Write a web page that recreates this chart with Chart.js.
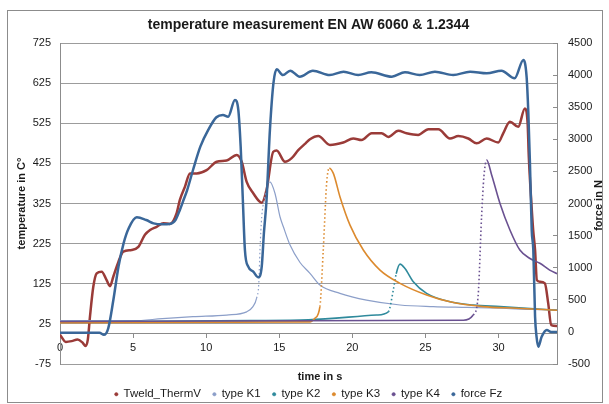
<!DOCTYPE html>
<html>
<head>
<meta charset="utf-8">
<script src="https://cdn.jsdelivr.net/npm/chart.js@4.4.1/dist/chart.umd.min.js"></script>
<style>
  html, body { margin: 0; padding: 0; background: #fff; }
  #wrap { width: 609px; height: 404px; }
</style>
</head>
<body>
<div id="wrap"><canvas id="chart" width="609" height="404"></canvas></div>
<script>
// tick labels
const timeTicks = [0, 5, 10, 15, 20, 25, 30];
const tempTicks = [-75, 25, 125, 225, 325, 425, 525, 625, 725];
const forceTicks = [-500, 0, 500, 1000, 1500, 2000, 2500, 3000, 3500, 4000, 4500];

// Tweld_ThermV (temperature, left axis)
const tweldTime = [0, 0.4, 0.8, 1.2, 1.55, 1.75, 1.9, 2.05, 2.28, 2.51, 2.85, 3.19, 3.42, 3.65, 4.0, 4.33, 4.9, 5.36, 5.81, 6.16, 6.61, 7.07, 7.52, 7.98, 8.2, 8.55, 8.89, 9.35, 10.03, 10.72, 11.4, 12.09, 12.43, 12.77, 13.23, 13.8, 14.13, 14.59, 14.82, 15.39, 15.85, 16.3, 16.8, 17.1, 17.67, 18.47, 19.38, 20.06, 20.63, 21.32, 22.0, 22.46, 23.14, 23.71, 24.5, 25.2, 25.88, 26.68, 27.25, 27.93, 28.5, 29.19, 29.98, 30.32, 30.78, 31.35, 31.8, 31.99, 32.07, 32.22, 32.37, 32.5, 32.62, 32.83, 33.17, 33.4, 33.6, 34];
const tweldTemp = [-2, -20, -18, -14, -22, -30, -15, 43, 118, 151, 155, 134, 119, 143, 180, 205, 209, 217, 247, 259, 267, 276, 274, 301, 334, 367, 400, 400, 408, 429, 432, 446, 429, 379, 350, 327, 359, 454, 457, 429, 438, 458, 475, 485, 493, 471, 477, 487, 483, 500, 500, 491, 506, 500, 496, 510, 510, 487, 493, 487, 475, 487, 477, 500, 529, 516, 562, 525, 442, 342, 259, 209, 134, 130, 126, 76, 22, 20];

// type K1
const k1Time = [0, 5, 7, 9.1, 11.4, 12.77, 13.2, 13.45, 13.6, 13.68, 13.8, 13.95, 14.36, 14.71, 15.05, 15.28, 15.73, 16.42, 17.1, 17.78, 19.15, 20.97, 23.26, 25.53, 27.82, 30.1, 32.37, 34];
const k1Temp = [33, 33, 38, 43, 47, 55, 68, 89, 126, 209, 292, 330, 379, 350, 292, 267, 222, 178, 151, 122, 101, 84, 72, 68, 66, 64, 61, 60];

// type K2
const k2Time = [0, 13, 17, 21.66, 22.46, 22.8, 23.0, 23.26, 23.6, 24.17, 25.08, 26.68, 28.27, 30.1, 34];
const k2Temp = [30, 33, 35, 47, 55, 109, 150, 174, 163, 130, 101, 80, 72, 68, 59];

// type K3
const k3Time = [0, 17.1, 17.44, 17.78, 18.01, 18.24, 18.42, 18.7, 19.15, 19.84, 20.75, 21.89, 23.26, 25.08, 26.68, 28.95, 31.23, 34];
const k3Temp = [28, 30, 39, 68, 209, 375, 413, 400, 342, 271, 209, 159, 126, 97, 80, 68, 64, 59];

// type K4
const k4Time = [0, 27.6, 28.27, 28.6, 28.84, 29.0, 29.19, 29.53, 30.1, 30.78, 31.46, 32.15, 32.83, 33.5, 34];
const k4Temp = [31, 34, 47, 93, 292, 392, 433, 396, 325, 259, 209, 188, 176, 159, 150];

// force Fz (right axis)
const forceTime = [0, 1.5, 2.7, 3.0, 3.3, 3.65, 4.0, 4.35, 4.7, 5.25, 5.9, 6.4, 7.0, 7.5, 7.9, 8.2, 8.45, 8.7, 9.1, 9.6, 10.15, 10.7, 11.15, 11.5, 11.97, 12.2, 12.36, 12.5, 12.65, 12.88, 13.22, 13.57, 13.8, 13.95, 14.13, 14.36, 14.6, 14.82, 15.25, 15.75, 16.4, 17.3, 18.45, 19.4, 20.4, 21.3, 22.7, 23.6, 24.6, 25.65, 26.9, 28.05, 29.2, 30.2, 31.1, 31.7, 31.92, 32.04, 32.15, 32.27, 32.38, 32.5, 32.6, 32.72, 32.95, 33.3, 33.6, 34];
const forceVal = [-15, -15, -15, -45, 56, 497, 1016, 1380, 1614, 1785, 1743, 1691, 1675, 1681, 1743, 1900, 2054, 2210, 2522, 2885, 3150, 3343, 3379, 3352, 3612, 3456, 2885, 2106, 1276, 1016, 938, 850, 1016, 1540, 2055, 3143, 3872, 4090, 4000, 4069, 3975, 4069, 4001, 4053, 4001, 4044, 3975, 4044, 4001, 4053, 4001, 4053, 4027, 4069, 3950, 4235, 3975, 3405, 2626, 1587, 1276, 237, -75, -230, -75, 30, 0, 0];

const toPoints = (xs, ys) => xs.map((x, i) => ({ x: x, y: ys[i] }));

// steile Anstiege der Thermoelemente gepunktet (wie im Excel-Original)
const dottedRise = (ctx) => {
    const dx = ctx.p1.x - ctx.p0.x;
    const dy = ctx.p0.y - ctx.p1.y;
    return dy > 10 && dy > 2.5 * dx ? [1.5, 2.5] : undefined;
};

const series = (label, xs, ys, color, width, axis, order, dotted) => ({
    label: label,
    data: toPoints(xs, ys),
    borderColor: color,
    backgroundColor: color,
    borderWidth: width,
    pointRadius: 0,
    showLine: true,
    cubicInterpolationMode: "monotone",
    xAxisID: "x",
    yAxisID: axis,
    order: order,
    segment: dotted ? { borderDash: dottedRise } : {},
});

// Rahmen um das ganze Diagramm + weisser Hintergrund
const framePlugin = {
    id: "frame",
    beforeDraw: (chart) => {
        const { ctx, width, height } = chart;
        ctx.save();
        ctx.fillStyle = "#ffffff";
        ctx.fillRect(0, 0, width, height);
        ctx.strokeStyle = "#8c8c8c";
        ctx.lineWidth = 1;
        ctx.strokeRect(7.5, 10.5, 595, 392);
        ctx.restore();
    },
};

// Achsentitel rechts (von unten nach oben lesbar) und unten (leicht nach rechts versetzt)
const axisTitlePlugin = {
    id: "axisTitles",
    afterDraw: (chart) => {
        const { ctx, chartArea } = chart;
        ctx.save();
        ctx.font = 'bold 11px "Liberation Sans", Arial, sans-serif';
        ctx.fillStyle = "#1a1a1a";
        ctx.textAlign = "center";
        ctx.textBaseline = "middle";
        ctx.fillText("time in s", 320, 377);
        ctx.translate(599, (chartArea.top + chartArea.bottom) / 2 + 2);
        ctx.rotate(-Math.PI / 2);
        ctx.fillText("force in N", 0, 0);
        ctx.restore();
    },
};

Chart.defaults.font.family = '"Liberation Sans", Arial, sans-serif';
Chart.defaults.font.size = 11;
Chart.defaults.color = "#1a1a1a";

new Chart(document.getElementById("chart"), {
    type: "scatter",
    data: {
        datasets: [
            series("Tweld_ThermV", tweldTime, tweldTemp, "#9a3b38", 2.5, "y", 6, false),
            series("type K1", k1Time, k1Temp, "#8c9fc9", 1.2, "y", 5, true),
            series("type K2", k2Time, k2Temp, "#2f8a9c", 1.6, "y", 4, true),
            series("type K3", k3Time, k3Temp, "#dc8a2e", 1.6, "y", 3, true),
            series("type K4", k4Time, k4Temp, "#6a5191", 1.6, "y", 2, true),
            series("force Fz", forceTime, forceVal, "#3a6799", 2.5, "y1", 1, false),
        ],
    },
    options: {
        responsive: false,
        animation: false,
        events: [],
        layout: { padding: { left: 8, right: 0, top: 0, bottom: -6 } },
        plugins: {
            tooltip: { enabled: false },
            title: {
                display: true,
                text: "temperature measurement EN AW 6060 & 1.2344",
                font: { size: 14, weight: "bold" },
                padding: { top: 16.6, bottom: 9.6 },
                color: "#1a1a1a",
            },
            legend: {
                position: "bottom",
                labels: {
                    usePointStyle: true,
                    pointStyle: "circle",
                    boxWidth: 3,
                    boxHeight: 2.4,
                    padding: 12,
                    font: { size: 11.5 },
                    sort: (a, b) => a.datasetIndex - b.datasetIndex,
                    generateLabels: (chart) =>
                        Chart.defaults.plugins.legend.labels
                            .generateLabels(chart)
                            .map((item) => ({ ...item, lineWidth: 0.5 })),
                },
            },
        },
        scales: {
            x: {
                type: "linear",
                position: { y: 0 },
                min: 0,
                max: 34,
                afterBuildTicks: (scale) => {
                    scale.ticks = timeTicks.map((v) => ({ value: v }));
                },
                grid: { drawOnChartArea: false, drawTicks: true, tickLength: 4, color: "#8c8c8c" },
                border: { color: "#8c8c8c" },
                ticks: { padding: 3, maxRotation: 0 },
            },
            // leere Achse unten, reserviert nur den Platz fuer den Achsentitel
            x2: {
                type: "linear",
                position: "bottom",
                min: 0,
                max: 1,
                ticks: { display: false },
                grid: { display: false },
                border: { display: false },
                afterFit: (scale) => {
                    scale.height = 12.5;
                },
            },
            y: {
                position: "left",
                min: -75,
                max: 725,
                afterBuildTicks: (scale) => {
                    scale.ticks = tempTicks.map((v) => ({ value: v }));
                },
                grid: { color: "#9c9c9c", drawTicks: false },
                border: { color: "#8c8c8c" },
                ticks: { padding: 9 },
                title: {
                    display: true,
                    text: "temperature in C°",
                    font: { size: 11, weight: "bold" },
                    padding: { top: 7, bottom: 0 },
                },
                afterFit: (scale) => {
                    scale.width = 52;
                },
            },
            y1: {
                position: "right",
                min: -500,
                max: 4500,
                afterBuildTicks: (scale) => {
                    scale.ticks = forceTicks.map((v) => ({ value: v }));
                },
                grid: { drawOnChartArea: false, drawTicks: true, tickLength: -4, color: "#8c8c8c" },
                border: { color: "#8c8c8c" },
                ticks: { padding: 15, callback: (value) => String(value) },
                afterFit: (scale) => {
                    scale.width = 52;
                },
            },
        },
    },
    plugins: [framePlugin, axisTitlePlugin],
});
</script>
</body>
</html>
